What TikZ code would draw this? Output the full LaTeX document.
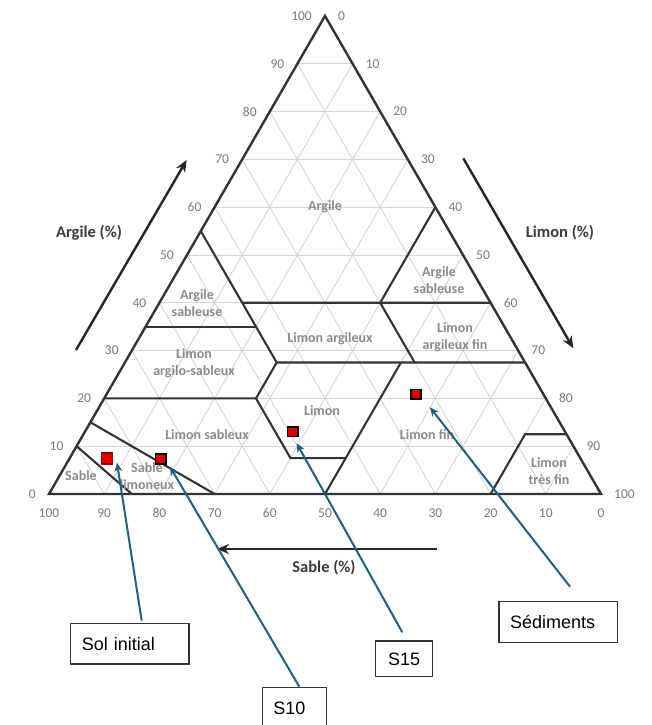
\documentclass[tikz,border=0pt]{standalone}
\usepackage{fontspec}
\setmainfont{Carlito}
\newfontfamily\boxfont{Liberation Sans}
\usetikzlibrary{arrows.meta,calc}
\definecolor{framegray}{HTML}{333333}
\definecolor{gridgray}{HTML}{D4D4D4}
\definecolor{labgray}{HTML}{8A8A8A}
\definecolor{tickgray}{HTML}{7A7A7A}
\definecolor{titlegray}{HTML}{3C3C3C}
\definecolor{teal}{HTML}{1F5F7F}
\definecolor{mkred}{HTML}{E00000}
\tikzset{
  grid/.style={draw=gridgray,line width=0.9},
  frame/.style={draw=framegray,line width=2.4},
  zone/.style={draw=framegray,line width=2.1},
  tick/.style={font=\fontsize{13.5}{16}\selectfont,text=tickgray,inner sep=0},
  zonelabel/.style={font=\bfseries\fontsize{14}{17}\selectfont,text=labgray,align=center,inner sep=0},
  axistitle/.style={font=\bfseries\fontsize{16.5}{19}\selectfont,text=titlegray,inner sep=0},
  axisarrow/.style={draw=black!85,line width=2.4,-{Stealth[length=12,width=10]}},
  mk/.style={rectangle,inner sep=0,fill=mkred,draw=black,line width=1.8,minimum width=10.5,minimum height=9.5},
  samplebox/.style={rectangle,draw=black!80,line width=1.2,font=\boxfont\fontsize{18}{21}\selectfont,inner xsep=11,inner ysep=0},
  pointer/.style={draw=teal,line width=2,-{Stealth[length=9,width=8]}}
}
\begin{document}
\begin{tikzpicture}[x=1pt,y=-1pt]
\path[use as bounding box,fill=white] (0,0) rectangle (651,725);

% corners of the texture triangle (weights below are fractions)
\coordinate (S) at (49,494);
\coordinate (L) at (601,494);
\coordinate (C) at (325,15.95);

% 10 % grid in the three directions
\foreach \v in {1,2,...,9} {
  \pgfmathsetmacro\a{\v/10}
  \pgfmathsetmacro\w{1-\v/10}
  \draw[grid] (barycentric cs:C=\a,S=\w,L=0) -- (barycentric cs:C=\a,S=0,L=\w);
  \draw[grid] (barycentric cs:S=\a,C=\w,L=0) -- (barycentric cs:S=\a,C=0,L=\w);
  \draw[grid] (barycentric cs:L=\a,S=\w,C=0) -- (barycentric cs:L=\a,S=0,C=\w);
}

% vertices of the texture classes
\coordinate (a1) at (barycentric cs:C=0.55,S=0.45,L=0);
\coordinate (a2) at (barycentric cs:C=0.40,S=0.45,L=0.15);
\coordinate (a3) at (barycentric cs:C=0.275,S=0.45,L=0.275);
\coordinate (b1) at (barycentric cs:C=0.35,S=0.65,L=0);
\coordinate (b2) at (barycentric cs:C=0.35,S=0.45,L=0.20);
\coordinate (d1) at (barycentric cs:C=0.20,S=0.80,L=0);
\coordinate (d2) at (barycentric cs:C=0.20,S=0.525,L=0.275);
\coordinate (d3) at (barycentric cs:C=0.075,S=0.525,L=0.40);
\coordinate (d4) at (barycentric cs:C=0.075,S=0.425,L=0.50);
\coordinate (e1) at (barycentric cs:C=0.40,S=0,L=0.60);
\coordinate (f1) at (barycentric cs:C=0.60,S=0,L=0.40);
\coordinate (f2) at (barycentric cs:C=0.40,S=0.20,L=0.40);
\coordinate (f3) at (barycentric cs:C=0.275,S=0.20,L=0.525);
\coordinate (g1) at (barycentric cs:C=0.275,S=0,L=0.725);
\coordinate (h1) at (barycentric cs:C=0,S=0.50,L=0.50);
\coordinate (h2) at (barycentric cs:C=0.275,S=0.225,L=0.50);
\coordinate (k1) at (barycentric cs:C=0,S=0.20,L=0.80);
\coordinate (k2) at (barycentric cs:C=0.125,S=0.075,L=0.80);
\coordinate (k3) at (barycentric cs:C=0.125,S=0,L=0.875);
\coordinate (m1) at (barycentric cs:C=0.15,S=0.85,L=0);
\coordinate (m2) at (barycentric cs:C=0,S=0.70,L=0.30);
\coordinate (n1) at (barycentric cs:C=0.10,S=0.90,L=0);
\coordinate (n2) at (barycentric cs:C=0,S=0.85,L=0.15);

% class boundaries
\draw[zone] (a1) -- (a3);
\draw[zone] (b1) -- (b2);
\draw[zone] (d1) -- (d2);
\draw[zone] (a3) -- (d2) -- (d3) -- (d4);
\draw[zone] (a2) -- (e1);
\draw[zone] (f1) -- (f2) -- (f3);
\draw[zone] (a3) -- (g1);
\draw[zone] (h1) -- (h2);
\draw[zone] (k1) -- (k2) -- (k3);
\draw[zone] (m1) -- (m2);
\draw[zone] (n1) -- (n2);

% outline
\draw[frame] (S) -- (L) -- (C) -- cycle;

% graduations
\foreach \v in {0,10,...,100} {
  \pgfmathsetmacro\a{\v/100}
  \pgfmathsetmacro\w{1-\v/100}
  \node[tick,anchor=east,xshift=-13] at (barycentric cs:C=\a,S=\w,L=0) {\v};
  \node[tick,anchor=west,xshift=13] at (barycentric cs:L=\a,C=\w,S=0) {\v};
  \node[tick,yshift=-19] at (barycentric cs:S=\a,L=\w,C=0) {\v};
}

% class names
\node[zonelabel] (zArg) at (325,207) {Argile};
\node[zonelabel] (zAsL) at (197,303) {Argile\\sableuse};
\node[zonelabel] (zLas) at (194,363) {Limon\\argilo-sableux};
\node[zonelabel] (zLa) at (330,339) {Limon argileux};
\node[zonelabel] (zAsR) at (439,280) {Argile\\sableuse};
\node[zonelabel] (zLaf) at (455,337) {Limon\\argileux fin};
\node[zonelabel] (zLim) at (322,411) {Limon};
\node[zonelabel] (zLs) at (207,435) {Limon sableux};
\node[zonelabel] (zLf) at (427,435) {Limon fin};
\node[zonelabel] (zLtf) at (549,471) {Limon\\très fin};
\node[zonelabel] (zSab) at (81,476) {Sable};
\node[zonelabel] (zSl) at (147,476) {Sable\\limoneux};

% axis titles and arrows
\node[axistitle] (tArg) at (89,233) {Argile (\%)};
\node[axistitle] (tLim) at (560,233) {Limon (\%)};
\node[axistitle] (tSab) at (324,568) {Sable (\%)};
\coordinate (ax1) at (76,350);
\coordinate (ax2) at (186.7,160);
\coordinate (ax3) at (463.3,158.3);
\coordinate (ax4) at (573.3,348.3);
\coordinate (ax5) at (437,549);
\coordinate (ax6) at (217,549);
\draw[axisarrow] (ax1) -- (ax2);
\draw[axisarrow] (ax3) -- (ax4);
\draw[axisarrow] (ax5) -- (ax6);

% samples
\node[mk,draw=mkred!70!black,minimum width=11,minimum height=11,line width=1.4] (mA) at (106.7,458.3) {};
\node[mk,minimum height=10] (mB) at (160.7,459.3) {};
\node[mk] (mC) at (292.7,431.7) {};
\node[mk] (mD) at (416,394.3) {};

% sample captions
\node[samplebox,text width=96.3,align=left,minimum height=40.7] (bA) at (129.9,643.7) {Sol initial};
\node[samplebox,text width=42.4,align=left,minimum height=43] (bB) at (294.5,708.7) {S10};
\node[samplebox,inner xsep=0,minimum width=57,minimum height=35.7] (bC) at (404.2,658.9) {S15};
\node[samplebox,text width=96.3,align=left,minimum height=40.6] (bD) at (558.2,622) {Sédiments};

% pointers from the captions to the samples
\coordinate (pA) at (141.7,620.7);
\coordinate (pB) at (299.3,686.7);
\coordinate (pC) at (402.3,632.3);
\coordinate (pD) at (570,586.7);
\draw[pointer] (pA) -- ([shift={(10.3,4.4)}]mA.center);
\draw[pointer] (pB) -- ([shift={(9.3,7.4)}]mB.center);
\draw[pointer] (pC) -- ([shift={(4,11.6)}]mC.center);
\draw[pointer] (pD) -- ([shift={(14,13)}]mD.center);
\end{tikzpicture}
\end{document}
